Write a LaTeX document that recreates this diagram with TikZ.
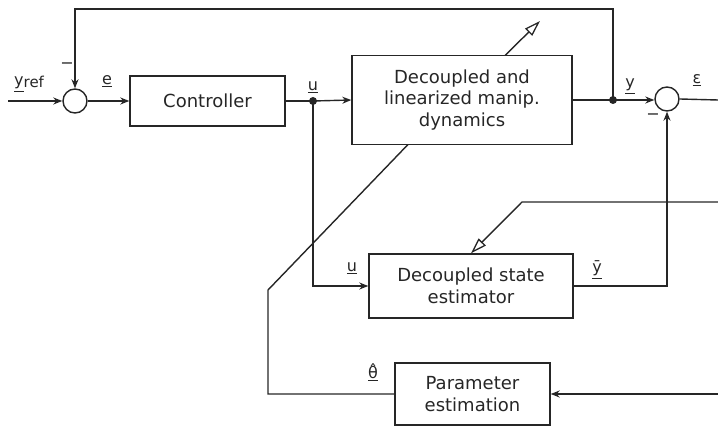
\documentclass[tikz,border=0pt]{standalone}
\usepackage{fontspec}
\setmainfont{DejaVu Sans}
\usetikzlibrary{arrows.meta,calc}
\tikzset{
  blk/.style={draw=black!85, line width=1.4pt, rectangle, inner sep=0pt, align=center,
    font=\fontsize{18}{21.7}\selectfont, text=black!85},
  sumc/.style={draw=black!85, line width=1.4pt, circle, minimum size=24pt, inner sep=0pt},
  dot/.style={circle, fill=black!85, minimum size=8pt, inner sep=0pt},
  wire/.style={line width=1.4pt, draw=black!85},
  arr/.style={wire, -{Stealth[length=9pt,width=7pt]}},
  harr/.style={wire, -{Triangle[open,length=16pt,width=10pt,line width=1.3pt]}},
  lbl/.style={font=\fontsize{16}{18}\selectfont, text=black!85, inner sep=0pt},
}
\begin{document}
\begin{tikzpicture}[x=1pt,y=-1pt]
\useasboundingbox (0,0) rectangle (718,427);
% blocks
\node[sumc] (s1) at (75,101) {};
\node[blk, minimum width=155pt, minimum height=50pt] (ctrl) at (207.5,101) {Controller};
\node[blk, minimum width=220pt, minimum height=89pt] (dyn) at (462,100) {Decoupled and\\linearized manip.\\dynamics};
\node[sumc] (s2) at (667,99) {};
\node[blk, minimum width=204pt, minimum height=64pt] (est) at (471,286) {Decoupled state\\estimator};
\node[blk, minimum width=155pt, minimum height=62pt] (par) at (472.5,394) {Parameter\\estimation};
% junctions
\node[dot] (j1) at (313,101) {};
\node[dot] (j2) at (613,100) {};
% free ends / bends
\coordinate (in) at (8,101);
\coordinate (out) at (718,100);
\coordinate (t1) at (613,9);
\coordinate (t2) at (75,9);
\coordinate (ub) at (313,286);
\coordinate (yb) at (667,286);
\coordinate (hin1) at (718,202);
\coordinate (hin2) at (522,202);
\coordinate (pin) at (718,394);
\coordinate (dtop) at (505,55.5);
\coordinate (dtip) at (540,21);
\coordinate (dbot) at (408,144.5);
\coordinate (b1) at (268,290);
\coordinate (b2) at (268,394);
% connectors
\draw[arr] (in) -- (s1.west);
\draw[arr] (s1.east) -- (ctrl.west);
\draw[wire] (ctrl.east) -- (j1.center);
\draw[arr] (j1.center) -- (dyn.west);
\draw[wire] (dyn.east |- j2) -- (j2.center);
\draw[arr] (j2.center) -- (s2.west |- j2);
\draw[wire] (s2.east) -- (out);
\draw[arr] (j2.center) -- (t1) -- (t2) -- (s1.north);
\draw[arr] (j1.center) -- (ub) -- (est.west);
\draw[arr] (est.east) -- (yb) -- (s2.south);
\draw[harr] (hin1) -- (hin2) -- (est.north);
\draw[harr] (dtop) -- (dtip);
\draw[wire] (dbot) -- (b1) -- (b2) -- (par.west);
\draw[arr] (pin) -- (par.east);
% labels
\node[lbl, anchor=base west] (lyref) at (14,86) {\underline{y}\raisebox{-2pt}{\fontsize{15}{16}\selectfont ref}};
\node[lbl] (lm1) at (67,66) {−};
\node[lbl, anchor=base] (le) at (107,85) {\underline{e}};
\node[lbl, anchor=base] (lu1) at (313,91) {\underline{u}};
\node[lbl, anchor=base] (ly) at (630,88) {\underline{y}};
\node[lbl, anchor=base] (leps) at (697,84) {\underline{ε}};
\node[lbl] (lm2) at (653,117) {−};
\node[lbl, anchor=base] (lu2) at (352,272) {\underline{u}};
\node[lbl, anchor=base] (lyb) at (597,273) {\underline{ȳ}};
\node[lbl, anchor=base] (lth) at (373,379) {\underline{θ̂}};
\end{tikzpicture}
\end{document}
